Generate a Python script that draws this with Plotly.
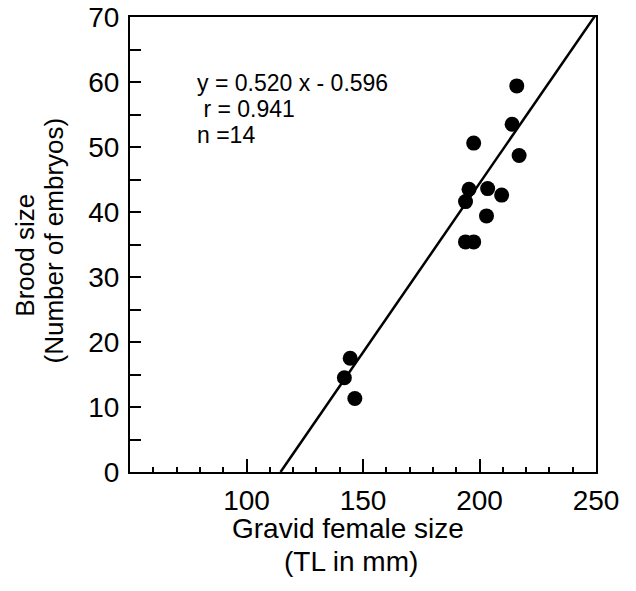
import plotly.graph_objects as go

# gravid female size (TL, mm) and brood size (number of embryos)
female_tl = [142, 144.5, 146.5, 194, 197.5, 194, 195.5, 197.5, 203, 203.5, 209.5, 214, 216, 217]
brood_size = [14.5, 17.5, 11.3, 35.4, 35.4, 41.6, 43.5, 50.6, 39.4, 43.6, 42.6, 53.5, 59.4, 48.7]

# fitted line as drawn in the figure
fit_x = [114.6, 250]
slope = 0.520
intercept = -59.6

x_ticks = [100, 150, 200, 250]
y_ticks = [0, 10, 20, 30, 40, 50, 60, 70]

stats_lines = ["y = 0.520 x - 0.596", " r = 0.941", "n =14"]

FONT = "Liberation Sans, Arial, Helvetica, sans-serif"

fig = go.Figure()

# regression line
fig.add_trace(go.Scatter(
    x=fit_x,
    y=[slope * v + intercept for v in fit_x],
    mode="lines",
    line=dict(color="black", width=2.5),
    hoverinfo="skip",
))

# observations
fig.add_trace(go.Scatter(
    x=female_tl,
    y=brood_size,
    mode="markers",
    marker=dict(color="black", size=15),
))

fig.update_layout(
    width=636,
    height=591,
    showlegend=False,
    plot_bgcolor="white",
    paper_bgcolor="white",
    font=dict(family=FONT, color="black", size=28),
    margin=dict(l=130, r=40, t=17, b=119),
    xaxis=dict(
        range=[50, 250],
        tickvals=x_ticks,
        ticks="inside",
        ticklen=13,
        tickwidth=1.5,
        tickcolor="black",
        ticklabelstandoff=2,
        ticklabeloverflow="allow",
        automargin=False,
        minor=dict(dtick=10, tick0=0, ticks="inside", ticklen=5, tickwidth=1.5, tickcolor="black"),
        showline=True,
        linecolor="black",
        linewidth=2,
        mirror=True,
        showgrid=False,
        zeroline=False,
        tickfont=dict(size=28),
    ),
    yaxis=dict(
        range=[0, 70],
        tickvals=y_ticks,
        ticks="inside",
        ticklen=11,
        tickwidth=1.5,
        tickcolor="black",
        ticklabelstandoff=3,
        ticklabeloverflow="allow",
        automargin=False,
        minor=dict(dtick=5, tick0=0, ticks="inside", ticklen=11, tickwidth=1.5, tickcolor="black"),
        showline=True,
        linecolor="black",
        linewidth=2,
        mirror=True,
        showgrid=False,
        zeroline=False,
        tickfont=dict(size=28),
    ),
)

# axis titles, one annotation per line
x_title = [("Gravid female size", 0.468, -0.125), ("(TL in mm)", 0.474, -0.196)]
for txt, xp, yp in x_title:
    fig.add_annotation(
        text=txt, xref="paper", yref="paper", x=xp, y=yp,
        xanchor="center", yanchor="middle", showarrow=False,
        font=dict(size=28),
    )

y_title = [("Brood size", -0.226, 0.477), ("(Number of embryos)", -0.164, 0.508)]
for txt, xp, yp in y_title:
    fig.add_annotation(
        text=txt, xref="paper", yref="paper", x=xp, y=yp,
        xanchor="center", yanchor="middle", textangle=-90, showarrow=False,
        font=dict(size=26),
    )

# regression statistics
for txt, yv in zip(stats_lines, [59.9, 55.8, 51.9]):
    fig.add_annotation(
        text=txt,
        x=77.9, y=yv,
        xanchor="left", yanchor="middle",
        showarrow=False,
        font=dict(size=23),
    )

# drop the default page margin so the figure fills the window exactly
fig.write_html(
    "out.html",
    config={"displayModeBar": False},
    post_script="document.body.style.margin='0';",
)
